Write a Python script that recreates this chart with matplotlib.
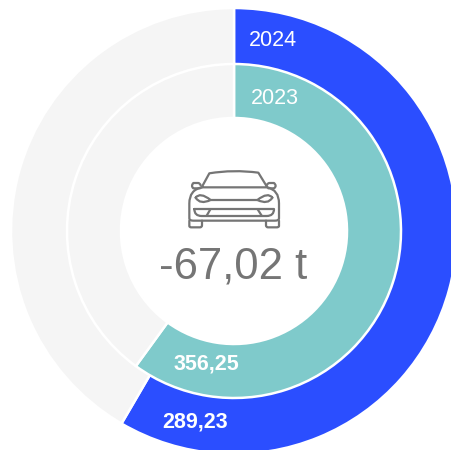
#!/usr/bin/env python3

import matplotlib
matplotlib.use("Agg")
import matplotlib.pyplot as plt
from matplotlib.path import Path
from matplotlib.patches import PathPatch

plt.rcParams['font.family'] = ['Liberation Sans', 'DejaVu Sans']

# values
years = ["2024", "2023"]
values = [289.23, 356.25]
remainders = [205.9, 237.5]
value_labels = ["289,23", "356,25"]
center_label = "-67,02 t"

BLUE = "#2b4eff"
TEAL = "#7fcacb"
GREY = "#f5f5f5"
TEXT = "#757575"

W, H = 451, 450
CX, CY = 234, H - 231

fig = plt.figure(figsize=(W / 100, H / 100), dpi=100)
ax = fig.add_axes([0, 0, 1, 1])


def ring(value, rest, color, outer, width):
    ax.pie([value, rest], colors=[color, GREY], radius=outer, center=(CX, CY),
           startangle=90, counterclock=False, frame=True,
           wedgeprops=dict(width=width, edgecolor="white", linewidth=1.8))


ring(values[0], remainders[0], BLUE, 223, 57)
ring(values[1], remainders[1], TEAL, 167, 54)

ax.set_xlim(0, W)
ax.set_ylim(0, H)
ax.set_aspect("equal")
ax.axis("off")


# Car icon, coordinates measured in the 3x crop at (150,150)
def z(x, y):
    return (150 + x / 3, H - (150 + y / 3))


def stroke(*segments):
    verts, codes = [], []
    for seg in segments:
        code, pts = seg
        for i, p in enumerate(pts):
            verts.append(z(*p))
            codes.append(Path.MOVETO if code == "M" else
                         (Path.LINETO if code == "L" else Path.CURVE3))
    ax.add_patch(PathPatch(Path(verts, codes), fc="none", ec=TEXT, lw=1.6,
                           capstyle="round", joinstyle="round"))


# roof and windscreen
stroke(("M", [(155, 112)]), ("L", [(178, 70)]), ("C", [(250, 58), (325, 68)]),
       ("L", [(352, 112)]), ("L", [(155, 112)]))
# body
stroke(("M", [(155, 112)]), ("C", [(118, 120), (118, 160)]), ("L", [(118, 205)]),
       ("C", [(118, 212), (130, 212)]), ("L", [(375, 212)]),
       ("C", [(387, 212), (387, 205)]), ("L", [(387, 160)]),
       ("C", [(387, 120), (352, 112)]))
# mirrors
stroke(("M", [(150, 115)]), ("L", [(130, 115)]), ("C", [(122, 108), (130, 99)]),
       ("L", [(145, 99)]), ("C", [(150, 100), (152, 106)]))
stroke(("M", [(355, 115)]), ("L", [(372, 115)]), ("C", [(382, 108), (372, 99)]),
       ("L", [(358, 99)]), ("C", [(352, 100), (350, 106)]))
# wheels
stroke(("M", [(118, 212)]), ("L", [(118, 228)]), ("C", [(118, 232), (124, 232)]),
       ("L", [(150, 232)]), ("C", [(156, 232), (156, 226)]), ("L", [(156, 212)]))
stroke(("M", [(348, 212)]), ("L", [(348, 226)]), ("C", [(348, 232), (354, 232)]),
       ("L", [(380, 232)]), ("C", [(387, 232), (387, 228)]), ("L", [(387, 212)]))
# headlights and bonnet line
stroke(("M", [(137, 143)]), ("C", [(150, 125), (182, 150)]),
       ("C", [(150, 165), (137, 143)]))
stroke(("M", [(367, 143)]), ("C", [(354, 125), (322, 150)]),
       ("C", [(354, 165), (367, 143)]))
stroke(("M", [(182, 150)]), ("L", [(322, 150)]))
# grille
stroke(("M", [(133, 177)]), ("L", [(372, 177)]), ("C", [(372, 198), (350, 198)]),
       ("L", [(155, 198)]), ("C", [(133, 198), (133, 177)]))
stroke(("M", [(170, 197)]), ("L", [(181, 178)]))
stroke(("M", [(335, 197)]), ("L", [(323, 178)]))

ax.text(233.5, H - 267, center_label, color=TEXT, fontsize=31.5, ha="center", va="center")

ax.text(273, H - 40, years[0], color="white", fontsize=15.5, ha="center", va="center")
ax.text(275, H - 99, years[1], color="white", fontsize=15.5, ha="center", va="center")
ax.text(195.5, H - 422, value_labels[0], color="white", fontsize=15.5, weight="bold",
        ha="center", va="center")
ax.text(206.5, H - 364, value_labels[1], color="white", fontsize=15.5, weight="bold",
        ha="center", va="center")

fig.savefig("out.png", dpi=100)
